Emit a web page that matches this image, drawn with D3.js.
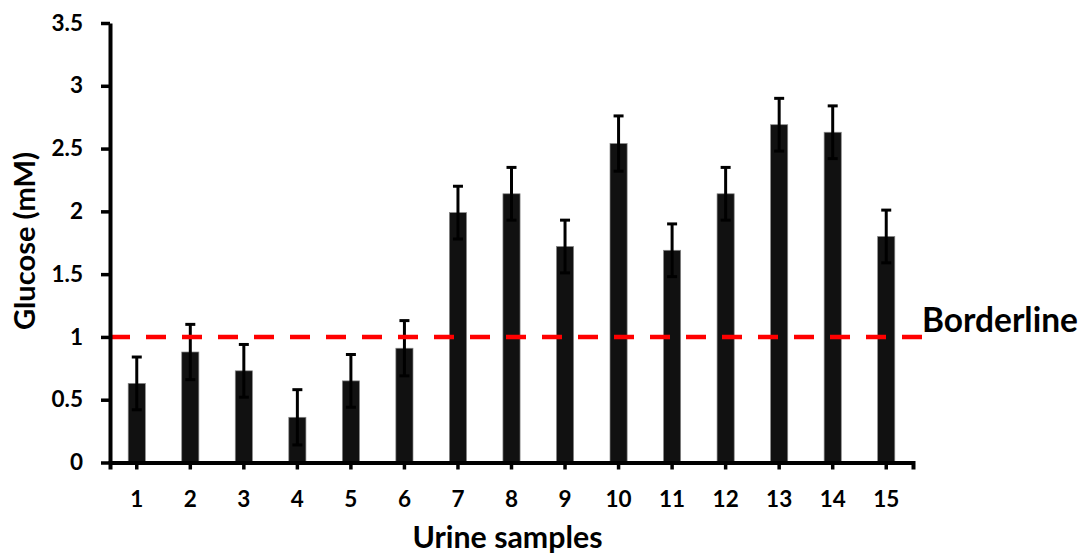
<!DOCTYPE html>
<html>
<head>
<meta charset="utf-8">
<script src="https://cdn.jsdelivr.net/npm/d3@7"></script>
<style>
  html, body { margin: 0; padding: 0; background: #fff; }
  svg { display: block; font-family: Lato, 'Open Sans', sans-serif; font-weight: 700; }
</style>
</head>
<body>
<svg id="chart" width="1083" height="554"></svg>
<script>
// Glucose per urine sample (mM), with error bar half-widths
const samples = ['1', '2', '3', '4', '5', '6', '7', '8', '9', '10', '11', '12', '13', '14', '15']
const glucose = [0.63, 0.88, 0.73, 0.36, 0.65, 0.91, 1.99, 2.14, 1.72, 2.54, 1.69, 2.14, 2.69, 2.63, 1.80]
const errors = [0.21, 0.22, 0.21, 0.22, 0.21, 0.22, 0.21, 0.21, 0.21, 0.22, 0.21, 0.21, 0.21, 0.21, 0.21]
const yTicks = [0, 0.5, 1, 1.5, 2, 2.5, 3, 3.5]
const borderline = 1

const width = 1083
const height = 554
const margin = { top: 23, right: 170, bottom: 91.5, left: 110 }

const svg = d3.select('#chart')

// scale a text's font size so it spans the given width
function fitWidth(sel, target) {
  const size = +sel.attr('font-size')
  const len = sel.node().getComputedTextLength()
  if (len > 0) sel.attr('font-size', (size * target) / len)
}

const x = d3
  .scaleBand()
  .domain(samples)
  .range([margin.left, width - margin.right])
  .paddingInner(0.68)
  .paddingOuter(0.34)

const y = d3
  .scaleLinear()
  .domain([0, 3.5])
  .range([height - margin.bottom, margin.top])

const data = samples.map((s, i) => ({ sample: s, value: glucose[i], err: errors[i] }))

// bars
svg
  .append('g')
  .selectAll('rect')
  .data(data)
  .join('rect')
  .attr('x', (d) => x(d.sample))
  .attr('y', (d) => y(d.value))
  .attr('width', x.bandwidth())
  .attr('height', (d) => y(0) - y(d.value))
  .attr('fill', '#111')
  .attr('stroke', '#888')
  .attr('stroke-width', 0.7)

// error bars
const errG = svg
  .append('g')
  .attr('stroke', '#000')
  .attr('stroke-width', 3)
  .attr('fill', 'none')
  .selectAll('g')
  .data(data)
  .join('g')
  .attr('transform', (d) => `translate(${x(d.sample) + x.bandwidth() / 2},0)`)

errG
  .append('line')
  .attr('y1', (d) => y(d.value - d.err))
  .attr('y2', (d) => y(d.value + d.err))

errG
  .append('line')
  .attr('x1', -5)
  .attr('x2', 5)
  .attr('y1', (d) => y(d.value + d.err))
  .attr('y2', (d) => y(d.value + d.err))

errG
  .append('line')
  .attr('x1', -5)
  .attr('x2', 5)
  .attr('y1', (d) => y(d.value - d.err))
  .attr('y2', (d) => y(d.value - d.err))

// borderline
svg
  .append('line')
  .attr('x1', margin.left)
  .attr('x2', 930)
  .attr('y1', y(borderline))
  .attr('y2', y(borderline))
  .attr('stroke', '#ff0000')
  .attr('stroke-width', 4.5)
  .attr('stroke-dasharray', '20 16')

svg
  .append('text')
  .attr('x', 922)
  .attr('y', y(borderline) - 5)
  .attr('font-size', 30)
  .attr('fill', '#000')
  .text('Borderline')
  .call(fitWidth, 156)

// y axis
const yAxisG = svg
  .append('g')
  .attr('transform', `translate(${margin.left},0)`)
  .call(d3.axisLeft(y).tickValues(yTicks).tickFormat(d3.format('')).tickSize(9).tickSizeOuter(0).tickPadding(18))
  .attr('font-family', null)
  .attr('font-size', 22.5)

yAxisG.select('.domain').attr('stroke', '#000').attr('stroke-width', 4)
yAxisG.selectAll('.tick line').attr('stroke', '#000').attr('stroke-width', 3.5)
yAxisG.selectAll('.tick text').attr('fill', '#000')

// x axis
const xAxisG = svg
  .append('g')
  .attr('transform', `translate(0,${y(0)})`)
  .call(d3.axisBottom(x).tickSize(7).tickSizeOuter(7))
  .attr('font-family', null)
  .attr('font-size', 22.5)

xAxisG.select('.domain').attr('stroke', '#000').attr('stroke-width', 4)
xAxisG.selectAll('.tick line').attr('stroke', '#000').attr('stroke-width', 3.5)
xAxisG
  .selectAll('.tick text')
  .attr('fill', '#000')
  .attr('y', 44.5)
  .attr('dy', null)

// axis titles
svg
  .append('text')
  .attr('x', 507.5)
  .attr('y', 548)
  .attr('text-anchor', 'middle')
  .attr('font-size', 30)
  .text('Urine samples')
  .call(fitWidth, 190)

svg
  .append('text')
  .attr('transform', `translate(35,241) rotate(-90)`)
  .attr('text-anchor', 'middle')
  .attr('font-size', 27)
  .text('Glucose (mM)')
  .call(fitWidth, 178)
</script>
</body>
</html>
